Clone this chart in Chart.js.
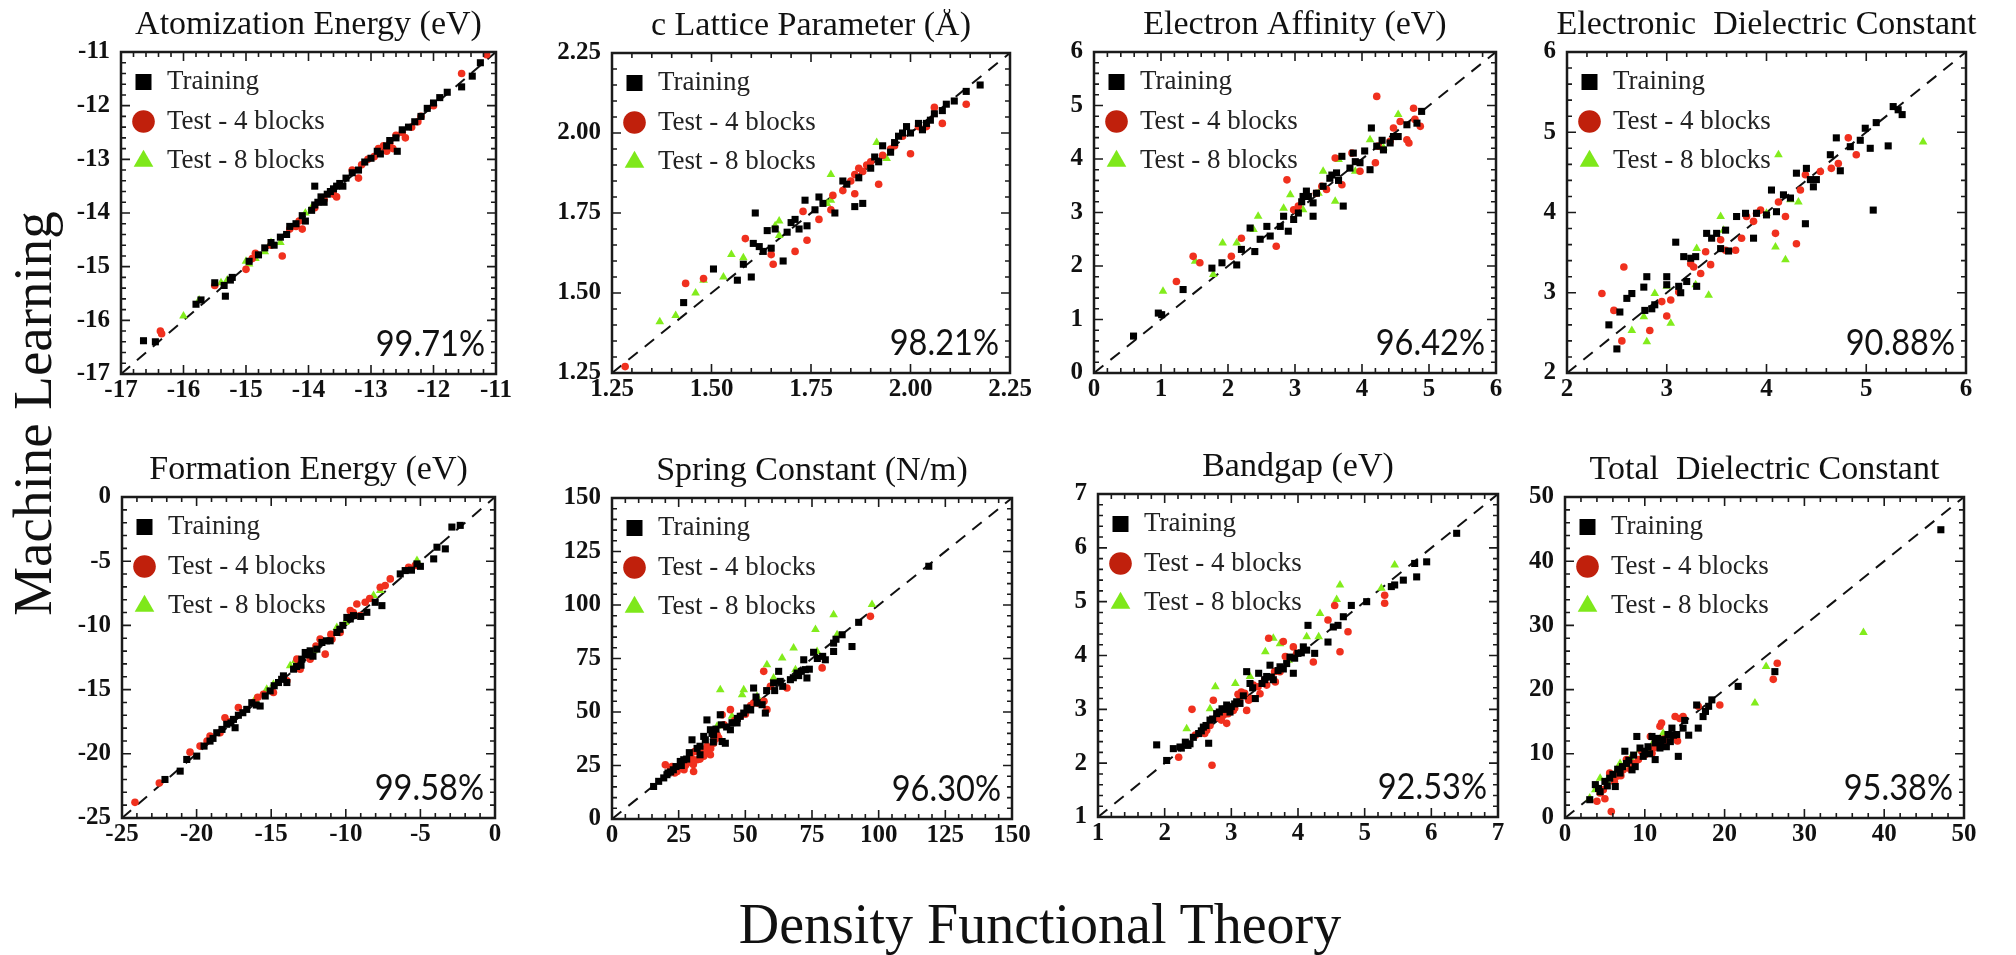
<!DOCTYPE html>
<html><head><meta charset="utf-8">
<script src="https://cdn.jsdelivr.net/npm/chart.js@4.4.1/dist/chart.umd.min.js"></script>
<style>
html,body{margin:0;padding:0;background:#fff;width:2016px;height:955px;overflow:hidden;position:relative;}
canvas{position:absolute;}
.lbl{position:absolute;font-family:'Liberation Serif','Times New Roman',serif;color:#111;white-space:nowrap;text-align:center;}
</style></head><body>
<div class="lbl" style="left:-268.5px;top:385.5px;width:600px;height:55px;font-size:55px;line-height:55px;transform:rotate(-90deg);">Machine Learning</div>
<div class="lbl" style="left:640px;top:896px;width:800px;height:56px;font-size:56px;line-height:56px;">Density Functional Theory</div>
<script>
// ---------- data (DFT value, ML value) ----------
const atomTrain = [[-16.64,-16.38],[-16.45,-16.4],[-15.8,-15.7],[-15.72,-15.62],[-15.5,-15.3],[-15.35,-15.35],[-15.33,-15.55],[-15.25,-15.25],[-15.22,-15.2],[-14.95,-14.9],[-14.8,-14.78],[-14.7,-14.65],[-14.6,-14.55],[-14.55,-14.6],[-14.45,-14.45],[-14.35,-14.4],[-14.3,-14.25],[-14.2,-14.2],[-14.1,-14.05],[-14.05,-14.15],[-13.95,-13.95],[-13.9,-13.85],[-13.9,-13.5],[-13.85,-13.8],[-13.8,-13.7],[-13.75,-13.8],[-13.7,-13.65],[-13.65,-13.6],[-13.6,-13.55],[-13.55,-13.5],[-13.5,-13.45],[-13.45,-13.5],[-13.4,-13.35],[-13.3,-13.25],[-13.2,-13.2],[-13.1,-13.05],[-13.0,-12.98],[-12.9,-12.85],[-12.85,-12.9],[-12.75,-12.75],[-12.7,-12.65],[-12.6,-12.6],[-12.58,-12.85],[-12.5,-12.45],[-12.4,-12.4],[-12.3,-12.3],[-12.2,-12.2],[-12.1,-12.05],[-12.0,-11.95],[-11.9,-11.85],[-11.78,-11.75],[-11.55,-11.65],[-11.38,-11.45],[-11.25,-11.2]];
const atomTest4 = [[-16.37,-16.2],[-16.35,-16.25],[-15.5,-15.35],[-15.0,-15.05],[-14.9,-14.85],[-14.85,-14.75],[-14.6,-14.6],[-14.42,-14.8],[-14.3,-14.3],[-14.2,-14.25],[-14.15,-14.15],[-14.1,-14.3],[-13.9,-13.9],[-13.75,-13.75],[-13.6,-13.65],[-13.55,-13.7],[-13.3,-13.2],[-13.2,-13.35],[-13.15,-13.1],[-13.05,-13.0],[-12.95,-12.95],[-12.88,-12.8],[-12.8,-12.75],[-12.75,-12.85],[-12.7,-12.7],[-12.65,-12.8],[-12.6,-12.55],[-12.5,-12.5],[-12.45,-12.6],[-12.35,-12.4],[-12.25,-12.3],[-12.2,-12.2],[-12.0,-12.0],[-11.55,-11.4],[-11.15,-11.05]];
const atomTest8 = [[-16.0,-15.92],[-15.75,-15.62],[-15.4,-15.3],[-15.3,-15.25],[-15.0,-14.9],[-14.95,-14.95],[-14.85,-14.85],[-14.7,-14.72],[-14.6,-14.55],[-14.45,-14.55],[-14.05,-14.0],[-13.95,-13.9]];

const latTrain = [[1.43,1.47],[1.505,1.575],[1.565,1.54],[1.6,1.55],[1.58,1.59],[1.61,1.75],[1.605,1.655],[1.62,1.645],[1.64,1.695],[1.65,1.64],[1.68,1.6],[1.71,1.73],[1.69,1.69],[1.74,1.71],[1.735,1.79],[1.77,1.8],[1.76,1.76],[1.81,1.75],[1.86,1.77],[1.88,1.78],[1.83,1.85],[1.9,1.89],[1.95,1.94],[1.96,1.97],[1.97,1.99],[1.99,2.02],[2.02,2.03],[2.04,2.03],[2.06,2.06],[2.09,2.09],[2.11,2.1],[2.14,2.13],[2.175,2.15],[1.91,1.925],[1.93,1.96],[2.03,2.01],[1.63,1.63],[1.66,1.7],[1.7,1.72],[1.72,1.7],[1.78,1.78],[1.84,1.84],[1.87,1.86],[1.92,1.91],[2.0,2.0],[2.05,2.04],[2.08,2.07],[1.98,2.0]];
const latTest4 = [[1.283,1.27],[1.435,1.53],[1.48,1.545],[1.585,1.67],[1.65,1.62],[1.655,1.59],[1.71,1.63],[1.73,1.755],[1.74,1.665],[1.77,1.73],[1.8,1.76],[1.805,1.805],[1.83,1.82],[1.86,1.81],[1.85,1.85],[1.87,1.89],[1.89,1.9],[1.92,1.84],[1.93,1.93],[1.96,1.96],[2.0,1.935],[2.02,2.02],[2.04,2.02],[2.06,2.08],[2.08,2.03],[2.14,2.09],[1.86,1.87],[1.88,1.88],[1.9,1.91],[1.95,1.95],[1.98,1.99]];
const latTest8 = [[1.37,1.41],[1.41,1.43],[1.46,1.5],[1.48,1.54],[1.53,1.55],[1.55,1.62],[1.58,1.61],[1.66,1.71],[1.67,1.725],[1.67,1.68],[1.8,1.87],[1.79,1.78],[1.8,1.79],[1.915,1.97],[1.94,1.92]];

const eaTrain = [[0.59,0.69],[0.96,1.12],[1.01,1.09],[1.33,1.56],[1.76,1.96],[1.91,2.06],[2.13,2.02],[2.2,2.31],[2.4,2.27],[2.33,2.71],[2.48,2.5],[2.58,2.74],[2.63,2.56],[2.78,2.74],[2.83,2.93],[2.9,2.65],[2.98,2.87],[3.05,2.99],[3.12,3.3],[3.17,3.4],[3.27,3.18],[3.27,2.93],[3.32,3.36],[3.42,3.49],[3.52,3.64],[3.62,3.74],[3.7,4.05],[3.72,3.12],[3.82,3.83],[3.87,4.11],[3.97,3.93],[4.04,4.15],[4.12,3.8],[4.14,4.58],[4.22,4.24],[4.32,4.17],[4.47,4.42],[4.54,4.42],[4.67,4.64],[4.82,4.67],[4.89,4.89],[4.42,4.3],[3.1,3.2],[3.2,3.3],[3.55,3.7],[3.65,3.6],[3.9,3.95],[4.3,4.35]];
const eaTest4 = [[1.23,1.71],[1.48,2.18],[1.58,2.06],[2.05,2.18],[2.2,2.52],[2.72,2.37],[2.88,3.61],[2.98,3.05],[3.05,3.12],[3.32,3.36],[3.4,3.49],[3.47,3.43],[3.6,4.02],[3.7,3.52],[3.85,4.11],[3.97,3.77],[4.2,3.93],[4.22,5.17],[4.24,4.24],[4.42,4.33],[4.47,4.58],[4.57,4.7],[4.67,4.36],[4.7,4.3],[4.77,4.95],[4.79,4.74],[4.87,4.61]];
const eaTest8 = [[1.03,1.53],[1.51,2.09],[1.78,1.84],[1.92,2.43],[2.13,2.43],[2.38,2.68],[2.45,2.93],[2.83,3.08],[2.93,3.33],[3.12,3.05],[3.35,3.36],[3.42,3.77],[3.6,3.21],[3.65,3.99],[3.9,3.77],[4.12,4.36],[4.32,4.21],[4.54,4.83]];

const edTrain = [[2.42,2.6],[2.5,2.3],[2.53,2.76],[2.6,2.93],[2.65,2.99],[2.77,3.07],[2.8,3.2],[2.78,2.78],[2.85,2.8],[2.88,2.85],[3.0,3.2],[3.0,3.1],[3.09,3.63],[3.12,3.08],[3.14,3.0],[3.17,3.45],[3.2,3.14],[3.24,3.43],[3.3,3.08],[3.29,3.45],[3.4,3.74],[3.45,3.68],[3.5,3.74],[3.54,3.55],[3.59,3.78],[3.62,3.52],[3.7,3.95],[3.79,3.99],[3.87,3.68],[3.9,3.99],[4.0,3.97],[4.05,4.28],[4.1,4.01],[4.17,4.22],[4.24,4.18],[4.3,4.49],[4.39,3.86],[4.4,4.55],[4.44,4.41],[4.47,4.32],[4.5,4.41],[4.64,4.72],[4.7,4.93],[4.74,4.52],[4.84,4.82],[4.94,4.9],[4.99,5.05],[5.04,4.8],[5.07,4.03],[5.1,5.12],[5.22,4.83],[5.27,5.32],[5.36,5.22],[5.32,5.28]];
const edTest4 = [[2.35,2.99],[2.47,2.78],[2.55,2.4],[2.57,3.32],[2.83,2.53],[2.95,2.89],[3.0,2.71],[3.04,2.91],[3.12,3.01],[3.24,3.36],[3.27,3.32],[3.34,3.24],[3.39,3.51],[3.44,3.35],[3.54,3.66],[3.59,3.53],[3.69,3.53],[3.75,3.68],[3.8,3.95],[3.87,3.89],[3.9,3.99],[3.94,4.03],[4.09,3.74],[4.12,4.13],[4.19,3.95],[4.3,3.61],[4.34,4.28],[4.39,4.47],[4.54,4.51],[4.65,4.55],[4.72,4.61],[4.82,4.93],[4.9,4.72]];
const edTest8 = [[2.65,2.53],[2.77,2.7],[2.8,2.39],[2.88,2.99],[3.0,3.08],[3.04,2.62],[3.29,3.1],[3.3,3.55],[3.42,2.97],[3.54,3.95],[3.57,3.78],[4.0,3.99],[4.09,3.57],[4.12,4.72],[4.19,3.41],[4.24,4.16],[4.32,4.13],[5.57,4.88]];

const feTrain = [[-20.66,-20.44],[-19.99,-20.18],[-21.1,-21.35],[-22.12,-22.0],[-19.1,-19.01],[-18.65,-18.36],[-17.98,-17.7],[-17.53,-17.32],[-17.42,-17.97],[-16.64,-16.54],[-16.3,-16.02],[-15.74,-16.28],[-15.07,-15.1],[-14.51,-14.45],[-14.18,-13.93],[-13.95,-14.45],[-13.5,-13.41],[-12.95,-12.63],[-12.72,-12.11],[-12.39,-11.98],[-11.94,-11.85],[-11.6,-11.33],[-11.05,-11.2],[-10.6,-10.55],[-9.93,-9.38],[-9.48,-9.24],[-8.59,-8.98],[-8.03,-8.2],[-7.58,-8.46],[-6.35,-5.99],[-6.02,-5.73],[-5.23,-5.21],[-4.11,-4.82],[-3.89,-3.91],[-3.33,-4.04],[-2.89,-2.34],[-2.33,-2.21],[-18.3,-18.1],[-17.2,-17.0],[-16.0,-16.2],[-15.4,-15.5],[-13.0,-13.1],[-12.2,-12.4],[-10.2,-10.0],[-9.0,-9.3],[-5.6,-5.7],[-5.0,-5.4],[-19.5,-19.4],[-18.9,-18.8],[-17.7,-17.6],[-16.9,-16.8],[-14.8,-14.7],[-14.3,-14.2],[-13.3,-13.2],[-12.5,-12.3],[-11.3,-11.2],[-10.4,-10.3],[-9.7,-9.5]];
const feTest4 = [[-24.13,-23.78],[-22.5,-22.27],[-20.44,-19.87],[-19.77,-19.4],[-19.1,-18.62],[-18.43,-18.36],[-18.1,-17.19],[-17.2,-16.4],[-16.19,-16.0],[-15.52,-15.36],[-14.85,-15.23],[-14.18,-14.06],[-13.95,-14.32],[-13.28,-12.63],[-13.06,-13.41],[-12.39,-12.63],[-11.72,-11.07],[-11.38,-12.24],[-10.93,-11.07],[-10.38,-10.55],[-9.7,-8.85],[-9.26,-8.33],[-9.03,-9.24],[-8.7,-8.2],[-7.69,-7.03],[-7.36,-6.9],[-7.02,-6.38],[-5.79,-5.47],[-5.35,-5.34],[-19.3,-19.0],[-17.8,-17.5],[-15.9,-15.6],[-12.0,-11.6],[-11.0,-10.7],[-9.5,-9.0],[-8.4,-7.9]];
const feTest8 = [[-16.08,-15.76],[-15.3,-14.97],[-14.85,-14.58],[-13.73,-13.15],[-13.39,-12.76],[-12.16,-11.98],[-10.6,-10.16],[-10.04,-9.77],[-8.14,-7.68],[-7.69,-7.29],[-5.23,-4.95]];

const scTrain = [[15.6,15.2],[17.5,17.6],[19.4,19.2],[20.6,20.7],[25.6,26.9],[26.9,27.7],[30,37],[31.9,33],[35.6,46.3],[34.4,38.6],[36.9,41.7],[38.1,39.4],[40.6,48.7],[41.3,36.2],[42.5,35.4],[44.4,41.7],[46.9,44.9],[48.1,48],[49.4,49.5],[50.6,51.9],[51.9,51.1],[53.1,61.2],[54.4,54.2],[56.3,53.4],[57.5,49.5],[60.6,63.6],[62.5,69],[63.1,64.3],[66.9,65.1],[69.4,68.2],[71.9,74.4],[72.5,69.8],[73.1,65.9],[75.6,77.9],[80,74.4],[83.1,78.3],[83.1,82.2],[86.3,86.1],[90,80.6],[92.5,91.9],[118.8,118.1],[22,22],[24,24.5],[28,28],[33,34],[38,36],[45,45],[70,67],[21,21.5],[23,23],[26,25],[29,31],[33,30],[35,37],[37.5,40],[39,42],[41,44],[43,43],[47,47],[52,51],[54,57],[58,60],[61,60],[64,62],[68,66],[71,69],[74,70],[77,75],[79,76],[84,84]];
const scTest4 = [[20,25.3],[21.9,23],[24.4,22.2],[28.1,26.1],[29.4,30],[30.6,22.2],[31.9,27.7],[33.1,30.8],[34.4,29.3],[35.6,34],[36.9,30],[38.1,35.4],[39.4,39.4],[41.3,48.7],[44.4,51.1],[48.1,48],[53.1,54.2],[56.9,69],[58.1,51.1],[59.4,62],[65.6,61.2],[78.8,70.6],[96.9,94.7],[26,24],[30,28],[32,32],[27,23],[22.5,24.5],[23.5,21.5],[25,24],[27.5,25],[29,28],[30.5,25.5],[31,31.5],[33,28],[35,32],[37,33],[38.5,37],[40,38],[42,44],[46,46],[50,49],[52,53],[55,54],[57,55]];
const scTest8 = [[39.4,43.3],[40.6,60.4],[45,48],[48.8,58.1],[49.4,60.4],[54.4,57.3],[58.1,72.1],[60.6,65.9],[63.8,75.2],[68.1,79.9],[68.8,69.8],[76.3,88.5],[76.9,78.3],[83.1,95.5],[84.4,86.1],[97.5,100.2]];

const bgTrain = [[1.88,2.34],[2.03,2.05],[2.13,2.27],[2.23,2.3],[2.31,2.39],[2.38,2.36],[2.43,2.48],[2.51,2.55],[2.58,2.67],[2.66,2.37],[2.68,2.8],[2.78,2.92],[2.86,3.01],[2.93,3.08],[2.98,2.95],[3.08,3.14],[3.13,3.11],[3.23,3.7],[3.28,3.48],[3.36,3.2],[3.41,3.67],[3.46,3.48],[3.53,3.61],[3.58,3.82],[3.63,3.55],[3.73,3.79],[3.83,3.85],[3.88,3.97],[3.93,3.67],[4.0,4.04],[4.08,4.16],[4.13,4.1],[4.15,4.56],[4.25,4.04],[4.45,4.25],[4.53,4.53],[4.6,4.56],[4.68,4.72],[4.8,4.93],[5.03,5.0],[5.4,5.28],[5.45,5.31],[5.58,5.4],[5.75,5.71],[5.78,5.46],[5.93,5.74],[6.38,6.27],[2.25,2.28],[2.35,2.33],[2.55,2.6],[2.62,2.7],[2.72,2.82],[2.82,2.95],[2.9,3.0],[3.0,3.05],[3.05,3.1],[3.18,3.25],[3.32,3.4],[3.5,3.55],[3.6,3.6],[3.7,3.72],[3.78,3.75],[3.95,3.95],[4.05,4.05]];
const bgTest4 = [[2.21,2.11],[2.41,3.0],[2.46,2.52],[2.63,2.61],[2.71,1.96],[2.73,3.17],[2.81,2.89],[2.88,2.89],[2.93,2.74],[3.03,2.98],[3.13,3.23],[3.23,2.98],[3.26,3.17],[3.33,3.45],[3.43,3.29],[3.53,3.45],[3.56,4.32],[3.66,3.51],[3.78,4.26],[3.81,3.98],[3.93,4.16],[3.98,4.04],[4.23,3.88],[4.45,4.66],[4.55,4.93],[4.63,4.07],[4.75,4.44],[5.3,5.12],[5.3,4.97],[2.6,2.55],[2.68,2.7],[2.78,2.85],[2.85,2.8],[2.95,2.92],[3.05,3.02],[3.1,3.28],[3.15,3.32],[3.2,3.3],[3.3,3.2],[3.4,3.42],[3.5,3.55],[3.65,3.7],[3.73,3.7]];
const bgTest8 = [[2.33,2.64],[2.68,3.01],[2.76,3.42],[3.06,3.48],[3.28,3.61],[3.51,4.07],[3.63,4.32],[3.73,4.22],[3.86,3.91],[4.13,4.35],[4.31,4.35],[4.33,4.78],[4.58,5.04],[4.63,5.31],[5.25,5.25],[5.45,5.68]];

const tdTrain = [[3.1,2.85],[3.8,5.2],[4.4,4.1],[5.0,5.7],[5.6,6.2],[6.3,4.9],[6.9,7.0],[7.5,10.4],[7.7,8.5],[8.4,7.5],[8.8,8.0],[9.0,12.7],[9.4,10.9],[9.8,9.6],[10.4,11.1],[10.9,12.7],[11.3,9.1],[11.3,11.7],[11.9,10.9],[12.3,12.2],[12.7,11.1],[13.2,11.9],[13.6,12.9],[14.2,9.6],[14.8,14.0],[15.5,12.9],[16.7,14.0],[16.5,17.6],[17.3,15.8],[18.0,17.4],[18.4,18.4],[21.7,20.5],[26.3,22.8],[47.1,44.9],[4.2,4.6],[5.3,5.0],[6.0,6.8],[6.6,7.6],[7.2,8.0],[8.0,9.0],[8.6,9.8],[10.0,10.4],[10.6,10.0],[11.6,12.4],[12.0,11.4],[12.9,13.0],[13.4,14.0],[14.0,13.0],[15.0,15.2],[17.6,16.6]];
const tdTest4 = [[4.0,2.6],[4.4,3.9],[5.8,1.0],[5.6,7.0],[6.5,6.5],[7.3,7.5],[7.7,9.1],[8.6,8.5],[9.2,9.1],[10.0,9.8],[10.7,12.7],[10.9,10.1],[11.9,14.3],[12.1,14.8],[12.7,11.7],[13.6,12.7],[13.8,15.8],[14.4,15.5],[14.8,15.8],[16.7,17.4],[19.4,17.6],[26.1,21.6],[26.6,24.1],[4.8,4.4],[5.0,3.0],[6.2,5.6],[7.0,6.6],[8.2,7.6],[9.6,10.4],[11.2,11.0],[12.4,12.3],[14.1,12.0]];
const tdTest8 = [[3.1,3.1],[3.8,4.4],[4.4,6.2],[5.2,5.7],[6.1,6.2],[6.9,8.5],[8.2,9.3],[9.4,10.6],[12.3,13.2],[23.8,17.9],[25.2,23.6],[37.4,28.9],[4.0,5.0],[5.6,6.6],[6.4,7.2],[7.6,8.2],[10.5,10.8],[11.0,11.6],[12.6,12.0]];

// ---------- tick values / labels ----------
const atomTicks = [-17,-16,-15,-14,-13,-12,-11];
const atomTickLabels = ['-17','-16','-15','-14','-13','-12','-11'];
const latTicks = [1.25,1.5,1.75,2.0,2.25];
const latTickLabels = ['1.25','1.50','1.75','2.00','2.25'];
const eaTicks = [0,1,2,3,4,5,6];
const eaTickLabels = ['0','1','2','3','4','5','6'];
const edTicks = [2,3,4,5,6];
const edTickLabels = ['2','3','4','5','6'];
const feTicks = [-25,-20,-15,-10,-5,0];
const feTickLabels = ['-25','-20','-15','-10','-5','0'];
const scTicks = [0,25,50,75,100,125,150];
const scTickLabels = ['0','25','50','75','100','125','150'];
const bgTicks = [1,2,3,4,5,6,7];
const bgTickLabels = ['1','2','3','4','5','6','7'];
const tdTicks = [0,10,20,30,40,50];
const tdTickLabels = ['0','10','20','30','40','50'];

const panelTitles = ['Atomization Energy (eV)','c Lattice Parameter (Å)','Electron Affinity (eV)','Electronic  Dielectric Constant','Formation Energy (eV)','Spring Constant (N/m)','Bandgap (eV)','Total  Dielectric Constant'];
const panelScores = ['99.71%','98.21%','96.42%','90.88%','99.58%','96.30%','92.53%','95.38%'];
const seriesNames = ['Training','Test - 4 blocks','Test - 8 blocks'];

const panelSeries = [
  [atomTrain,atomTest4,atomTest8],[latTrain,latTest4,latTest8],[eaTrain,eaTest4,eaTest8],[edTrain,edTest4,edTest8],
  [feTrain,feTest4,feTest8],[scTrain,scTest4,scTest8],[bgTrain,bgTest4,bgTest8],[tdTrain,tdTest4,tdTest8]
];
const panelTicks = [atomTicks,latTicks,eaTicks,edTicks,feTicks,scTicks,bgTicks,tdTicks];
const panelTickLabels = [atomTickLabels,latTickLabels,eaTickLabels,edTickLabels,feTickLabels,scTickLabels,bgTickLabels,tdTickLabels];

// ---------- layout (plot-area boxes in page px) ----------
const layoutBoxes = [
  {L:121,T:52,R:496,B:374},{L:612,T:53,R:1010,B:373},{L:1094,T:52,R:1496,B:373},{L:1567,T:52,R:1966,B:373},
  {L:122,T:497,R:495,B:818},{L:612,T:498,R:1012,B:819},{L:1098,T:494,R:1498,B:817},{L:1565,T:497,R:1964,B:818}
];
const SERIF = "'Liberation Serif','Times New Roman',serif";
const YW = 62, XH = 40, TSIZE = 34, TPAD = 10;
const MARK_COLORS = ['#000000','#f0301e','#82ec1c'];
const LEGEND_COLORS = ['#000000','#c0200c','#7ee81a'];
const STYLES = ['rect','circle','triangle'];
const RADII = [5, 3.8, 5];

const frameTicks = {
  id: 'frameTicks',
  afterLayout(chart) {
    const lg = chart.legend, a = chart.chartArea;
    if (lg) { lg.top = a.top; lg.bottom = a.bottom; lg.left = a.left; lg.right = a.right; }
  },
  afterDatasetsDraw(chart, args, o) {
    const {ctx, chartArea: a} = chart;
    const xs = chart.scales.x, ys = chart.scales.y;
    ctx.save();
    ctx.strokeStyle = '#1a1a1a';
    ctx.lineWidth = 1.6;
    const drawAxis = (scale, horiz) => {
      const n = Math.round((scale.max - scale.min) / o.minor);
      for (let k = 0; k <= n; k++) {
        const p = scale.getPixelForValue(scale.min + k * o.minor);
        const len = (k % 5 === 0) ? 9 : 5;
        ctx.beginPath();
        if (horiz) { ctx.moveTo(p, a.bottom); ctx.lineTo(p, a.bottom - len); ctx.moveTo(p, a.top); ctx.lineTo(p, a.top + len); }
        else { ctx.moveTo(a.left, p); ctx.lineTo(a.left + len, p); ctx.moveTo(a.right, p); ctx.lineTo(a.right - len, p); }
        ctx.stroke();
      }
    };
    drawAxis(xs, true); drawAxis(ys, false);
    ctx.lineWidth = 2.5;
    ctx.strokeRect(a.left, a.top, a.right - a.left, a.bottom - a.top);
    ctx.fillStyle = '#111';
    ctx.font = "37px Lato, 'Open Sans', sans-serif";
    ctx.textAlign = 'right';
    ctx.textBaseline = 'alphabetic';
    ctx.translate(a.right - 11, a.bottom - 18);
    ctx.scale(0.88, 1);
    ctx.fillText(o.score, 0, 0);
    ctx.restore();
  }
};

function makePanel(i) {
  const g = layoutBoxes[i];
  const ticks = panelTicks[i], labels = panelTickLabels[i];
  const min = ticks[0], max = ticks[ticks.length - 1];
  const w = (g.R - g.L) + 2 * YW;
  const h = TSIZE + TPAD + (g.B - g.T) + XH;
  const canvas = document.createElement('canvas');
  canvas.width = w; canvas.height = h;
  canvas.style.left = (g.L - YW) + 'px';
  canvas.style.top = (g.T - TSIZE - TPAD) + 'px';
  canvas.style.width = w + 'px'; canvas.style.height = h + 'px';
  document.body.appendChild(canvas);

  const axis = (which) => ({
    type: 'linear', position: which === 'x' ? 'bottom' : 'left', min: min, max: max,
    grid: { display: false, drawTicks: false }, border: { display: false },
    afterBuildTicks: (s) => { s.ticks = ticks.map(v => ({ value: v })); },
    afterFit: (s) => { if (which === 'x') s.height = XH; else s.width = YW; },
    ticks: { autoSkip: false, maxRotation: 0, minRotation: 0, padding: which === 'x' ? 2 : 11, color: '#111',
      font: { family: SERIF, size: 25, weight: 'bold', lineHeight: 1.2 },
      callback: (v, idx) => labels[idx] }
  });

  const datasets = panelSeries[i].map((arr, k) => ({
    label: seriesNames[k],
    data: arr.map(p => ({ x: p[0], y: p[1] })),
    pointStyle: STYLES[k], pointRadius: RADII[k], pointHoverRadius: RADII[k],
    backgroundColor: MARK_COLORS[k], borderColor: MARK_COLORS[k], borderWidth: 0, order: 1
  }));
  datasets.push({ type: 'line', label: 'parity', data: [{ x: min, y: min }, { x: max, y: max }],
    borderColor: '#111', borderWidth: 2, borderDash: [12, 9], pointRadius: 0, fill: false, order: 10 });

  new Chart(canvas, {
    type: 'scatter',
    data: { datasets },
    options: {
      responsive: false, animation: false, devicePixelRatio: 1, events: [],
      layout: { padding: 0 },
      scales: {
        x: axis('x'), y: axis('y'),
        yr: { type: 'linear', position: 'right', display: true, grid: { display: false, drawTicks: false },
              border: { display: false }, ticks: { display: false }, afterFit: (s) => { s.width = YW; } }
      },
      plugins: {
        tooltip: { enabled: false },
        title: { display: true, text: panelTitles[i], color: '#111',
          font: { family: SERIF, size: TSIZE, weight: 'normal', lineHeight: 1 }, padding: { top: 0, bottom: TPAD } },
        legend: { position: 'chartArea', align: 'start',
          title: { display: true, text: ' ', font: { size: 1, lineHeight: 1 }, padding: { top: 3, bottom: 0 } },
          labels: { usePointStyle: true, boxWidth: 20, boxHeight: 16, padding: 12.5, color: '#222',
            font: { family: SERIF, size: 27 },
            generateLabels: (chart) => Chart.defaults.plugins.legend.labels.generateLabels(chart)
              .filter(it => it.datasetIndex < 3)
              .map(it => Object.assign(it, { fillStyle: LEGEND_COLORS[it.datasetIndex], strokeStyle: LEGEND_COLORS[it.datasetIndex], lineWidth: 0 })) } },
        frameTicks: { score: panelScores[i], minor: (ticks[1] - ticks[0]) / 5 }
      }
    },
    plugins: [frameTicks]
  });
}
for (let i = 0; i < 8; i++) makePanel(i);
</script>
</body></html>
